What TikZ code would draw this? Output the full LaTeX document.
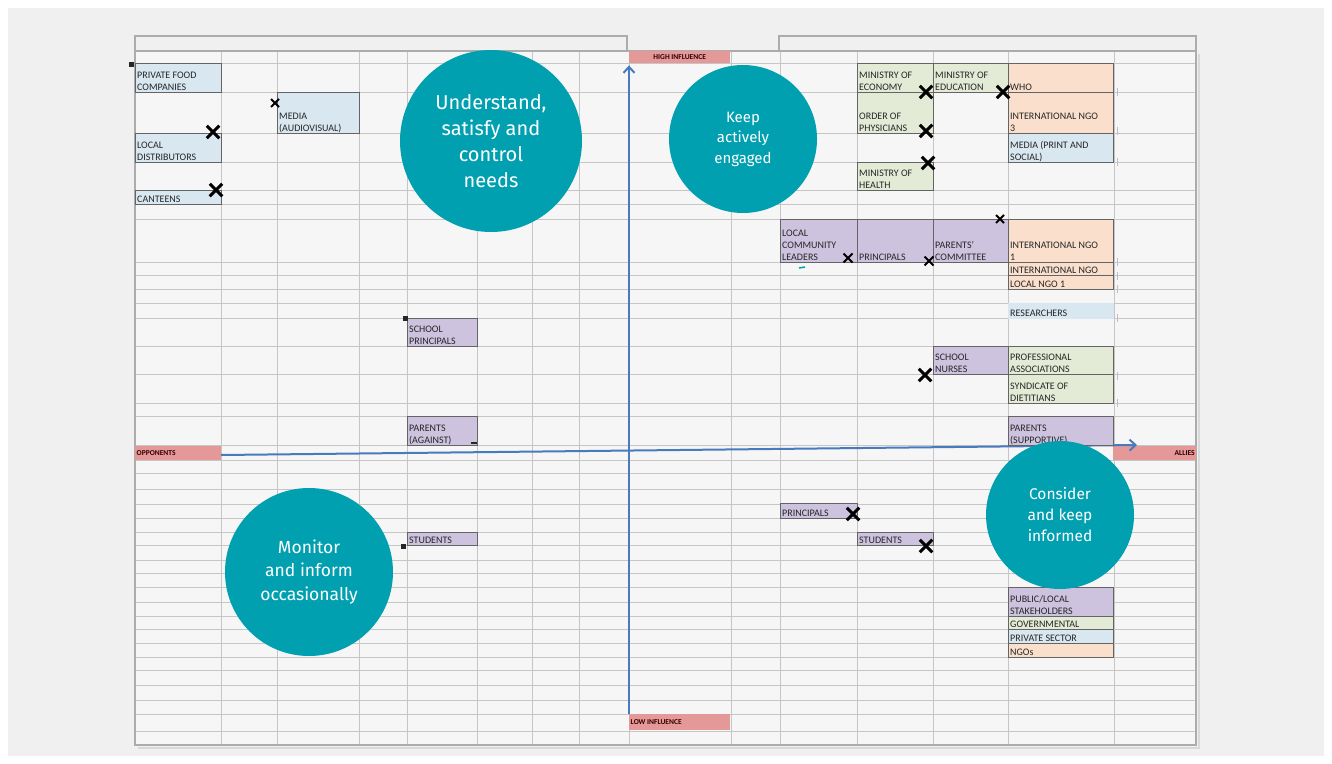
\documentclass[tikz,border=0pt]{standalone}
\usepackage{fontspec}
\setmainfont{Carlito}
\newfontfamily\circfont{Fira Sans}
\usetikzlibrary{arrows.meta,shapes.misc}

\definecolor{panelgray}{RGB}{240,240,240}
\definecolor{sheetbg}{RGB}{246,246,246}
\definecolor{boxedge}{RGB}{100,100,100}
\definecolor{privblue}{RGB}{216,231,240}
\definecolor{govgreen}{RGB}{227,235,214}
\definecolor{ngopeach}{RGB}{250,223,205}
\definecolor{publilac}{RGB}{205,195,223}
\definecolor{bandpink}{RGB}{228,152,152}
\definecolor{axisblue}{RGB}{72,122,190}
\definecolor{bubbleteal}{RGB}{0,160,176}

\begin{document}
\begin{tikzpicture}[x=1pt, y=-1pt,
  gridline/.style={gray!45, line width=0.9pt},
  stake/.style={draw=boxedge, line width=1.2pt, anchor=north west, inner sep=0pt},
  celltext/.style={anchor=south west, align=left, font=\fontsize{10}{12}\selectfont,
    text=black!85, inner xsep=2pt, inner ysep=3pt, text depth=0pt},
  bandcell/.style={fill=bandpink, anchor=north west, inner sep=0pt},
  bandtext/.style={font=\bfseries\fontsize{7.5}{8}\selectfont, text=black!80!red, inner sep=1.5pt},
  bubble/.style={circle, fill=bubbleteal, text=white, align=center, inner sep=0pt},
  xcross/.style={cross out, draw=black, line width=3pt, minimum size=9.5pt, inner sep=0pt},
  smallcross/.style={cross out, draw=black, line width=2pt, minimum size=6pt, inner sep=0pt},
  handle/.style={rectangle, fill=black!85, minimum size=5pt, inner sep=0pt},
  axis/.style={draw=axisblue, line width=2pt, -{Straight Barb[length=6pt, width=11pt, line width=2pt]}},
  tick/.style={gray!50, line width=0.8pt}
]
\useasboundingbox (0,0) rectangle (1332,763);
\fill[white] (0,0) rectangle (1332,763);
\fill[panelgray] (8,8) rectangle (1324,756);

% sheet and grid
\fill[sheetbg] (135,51) rectangle (1196,745);
\foreach \gx in {221,277,359,407,477,532,579,629,731,780,857,933,1008,1114}
  \draw[gridline] (\gx,51) -- (\gx,745);
\foreach \gy in {63,92,133,162,190,204,219,262,275,289,303,318,346,374,403,416,445,460,473,489,504,518,532,545,560,573,587,602,616,629,643,657,670,685,700,714,731}
  \draw[gridline] (135,\gy) -- (1196,\gy);
\draw[gray!65, line width=1.2pt] (135,51) -- (135,36) -- (627,36) -- (627,51);
\draw[gray!65, line width=1.2pt] (779,51) -- (779,36) -- (1196,36) -- (1196,51);
\draw[gray!30, line width=2pt] (138,747.5) -- (1198.5,747.5) -- (1198.5,54);
\draw[gray!65, line width=1.5pt] (135,51) rectangle (1196,745);

% influence / position bands
\node[bandcell, minimum width=101, minimum height=12] (high) at (629,51) {};
\node[bandtext] (high-t) at (high.center) {HIGH INFLUENCE};
\node[bandcell, minimum width=101, minimum height=16] (low) at (629,714) {};
\node[bandtext, anchor=west] (low-t) at (low.west) {LOW INFLUENCE};
\node[bandcell, minimum width=86, minimum height=14] (opp) at (135,446) {};
\node[bandtext, anchor=west] (opp-t) at (opp.west) {OPPONENTS};
\node[bandcell, minimum width=83, minimum height=14] (allies) at (1113,446) {};
\node[bandtext, anchor=east] (allies-t) at (allies.east) {ALLIES};

% axes
\coordinate (xleft) at (221,455);
\coordinate (xright) at (1137,445);
\draw[axis] (low.north west) -- ([yshift=-2pt]high.south west);
\draw[axis] (xleft) -- (xright);

% opponents side
\node[stake, fill=privblue, minimum width=86, minimum height=29] (pfc) at (135,63) {};
\node[celltext] (pfc-t) at (pfc.south west) {PRIVATE FOOD\\COMPANIES};
\node[stake, fill=privblue, minimum width=82, minimum height=41] (media) at (277,92) {};
\node[celltext] (media-t) at (media.south west) {MEDIA\\(AUDIOVISUAL)};
\node[stake, fill=privblue, minimum width=86, minimum height=29] (dist) at (135,133) {};
\node[celltext] (dist-t) at (dist.south west) {LOCAL\\DISTRIBUTORS};
\node[stake, fill=privblue, minimum width=86, minimum height=14] (cant) at (135,190) {};
\node[celltext] (cant-t) at (cant.south west) {CANTEENS};
\node[stake, fill=publilac, minimum width=70, minimum height=28] (schprin) at (407,318) {};
\node[celltext] (schprin-t) at (schprin.south west) {SCHOOL\\PRINCIPALS};
\node[stake, fill=publilac, minimum width=70, minimum height=29] (paragainst) at (407,416) {};
\node[celltext] (paragainst-t) at (paragainst.south west) {PARENTS\\(AGAINST)};
\node[stake, fill=publilac, minimum width=70, minimum height=13] (stud1) at (407,532) {};
\node[celltext] (stud1-t) at (stud1.south west) {STUDENTS};

% allies side, high influence
\node[stake, fill=govgreen, minimum width=76, minimum height=29] (mecon) at (857,63) {};
\node[celltext] (mecon-t) at (mecon.south west) {MINISTRY OF\\ECONOMY};
\node[stake, fill=govgreen, minimum width=75, minimum height=29] (medu) at (933,63) {};
\node[celltext] (medu-t) at (medu.south west) {MINISTRY OF\\EDUCATION};
\node[stake, fill=govgreen, minimum width=76, minimum height=41] (ophys) at (857,92) {};
\node[celltext] (ophys-t) at (ophys.south west) {ORDER OF\\PHYSICIANS};
\node[stake, fill=govgreen, minimum width=76, minimum height=28] (mhealth) at (857,162) {};
\node[celltext] (mhealth-t) at (mhealth.south west) {MINISTRY OF\\HEALTH};
\node[stake, fill=ngopeach, minimum width=105, minimum height=29] (who) at (1008,63) {};
\node[celltext] (who-t) at (who.south west) {WHO};
\node[stake, fill=ngopeach, minimum width=105, minimum height=41] (ingo3) at (1008,92) {};
\node[celltext] (ingo3-t) at (ingo3.south west) {INTERNATIONAL NGO\\3};
\node[stake, fill=privblue, minimum width=105, minimum height=29] (mediaps) at (1008,133) {};
\node[celltext] (mediaps-t) at (mediaps.south west) {MEDIA (PRINT AND\\SOCIAL)};
\node[stake, fill=publilac, minimum width=77, minimum height=43] (leaders) at (780,219) {};
\node[celltext] (leaders-t) at (leaders.south west) {LOCAL\\COMMUNITY\\LEADERS};
\node[stake, fill=publilac, minimum width=76, minimum height=43] (princ1) at (857,219) {};
\node[celltext] (princ1-t) at (princ1.south west) {PRINCIPALS};
\node[stake, fill=publilac, minimum width=75, minimum height=43] (parcom) at (933,219) {};
\node[celltext] (parcom-t) at (parcom.south west) {PARENTS'\\COMMITTEE};
\node[stake, fill=ngopeach, minimum width=105, minimum height=43] (ingo1) at (1008,219) {};
\node[celltext] (ingo1-t) at (ingo1.south west) {INTERNATIONAL NGO\\1};
\node[stake, fill=ngopeach, minimum width=105, minimum height=13] (ingo) at (1008,262) {};
\node[celltext] (ingo-t) at (ingo.south west) {INTERNATIONAL NGO};
\node[stake, fill=ngopeach, minimum width=105, minimum height=14] (lngo1) at (1008,275) {};
\node[celltext] (lngo1-t) at (lngo1.south west) {LOCAL NGO 1};
\node[stake, draw=privblue, fill=privblue, minimum width=105, minimum height=15] (research) at (1008,303) {};
\node[celltext] (research-t) at (research.south west) {RESEARCHERS};
\node[stake, fill=publilac, minimum width=75, minimum height=28] (nurses) at (933,346) {};
\node[celltext] (nurses-t) at (nurses.south west) {SCHOOL\\NURSES};
\node[stake, fill=govgreen, minimum width=105, minimum height=28] (profass) at (1008,346) {};
\node[celltext] (profass-t) at (profass.south west) {PROFESSIONAL\\ASSOCIATIONS};
\node[stake, fill=govgreen, minimum width=105, minimum height=29] (syndiet) at (1008,374) {};
\node[celltext] (syndiet-t) at (syndiet.south west) {SYNDICATE OF\\DIETITIANS};
\node[stake, fill=publilac, minimum width=105, minimum height=29] (parsup) at (1008,416) {};
\node[celltext] (parsup-t) at (parsup.south west) {PARENTS\\(SUPPORTIVE)};

% allies side, low influence
\node[stake, fill=publilac, minimum width=77, minimum height=15] (princ2) at (780,503) {};
\node[celltext] (princ2-t) at (princ2.south west) {PRINCIPALS};
\node[stake, fill=publilac, minimum width=76, minimum height=13] (stud2) at (857,532) {};
\node[celltext] (stud2-t) at (stud2.south west) {STUDENTS};

% legend
\node[stake, fill=publilac, minimum width=105, minimum height=29] (legpub) at (1008,587) {};
\node[celltext] (legpub-t) at (legpub.south west) {PUBLIC/LOCAL\\STAKEHOLDERS};
\node[stake, fill=govgreen, minimum width=105, minimum height=13] (leggov) at (1008,616) {};
\node[celltext] (leggov-t) at (leggov.south west) {GOVERNMENTAL};
\node[stake, fill=privblue, minimum width=105, minimum height=14] (legpriv) at (1008,629) {};
\node[celltext] (legpriv-t) at (legpriv.south west) {PRIVATE SECTOR};
\node[stake, fill=ngopeach, minimum width=105, minimum height=14] (legngo) at (1008,643) {};
\node[celltext] (legngo-t) at (legngo.south west) {NGOs};

% small marks next to the cells
\foreach \ty in {92,131,162,262,276,289,318,376,403}
  \draw[tick] (1117,\ty-4) -- (1117,\ty+4);
\draw[bubbleteal, line width=1.5pt] (799,268) -- (805,267);

% crosses
\node[handle] (h1) at (131,64) {};
\node[smallcross] (h2) at (275,103) {};
\node[xcross] (c1) at (213,132) {};
\node[xcross] (c2) at (216,190) {};
\node[handle] (h3) at (405,318) {};
\node[handle, minimum width=6pt, minimum height=2.5pt] (h4) at (474,443) {};
\node[handle] (h5) at (403,546) {};
\node[xcross] (c3) at (926,92) {};
\node[xcross] (c4) at (1003,92) {};
\node[xcross] (c5) at (926,131) {};
\node[xcross] (c6) at (928,163) {};
\node[smallcross] (h6) at (1000,219) {};
\node[smallcross, minimum size=7pt] (c7) at (848,258) {};
\node[smallcross, minimum size=7pt] (c8) at (929,261) {};
\node[xcross] (c9) at (925,375) {};
\node[xcross] (c10) at (853,514) {};
\node[xcross] (c11) at (926,546) {};

% quadrant bubbles
\node[bubble, minimum size=182, font=\circfont\fontsize{20}{26}\selectfont] (satisfy) at (491,141)
  {Understand,\\satisfy and\\control\\needs};
\node[bubble, minimum size=148, font=\circfont\fontsize{15}{20.5}\selectfont] (engaged) at (743,139)
  {Keep\\actively\\engaged};
\node[bubble, minimum size=148, font=\circfont\fontsize{15.5}{21}\selectfont] (informed) at (1060,515)
  {Consider\\and keep\\informed};
\node[bubble, minimum size=168, font=\circfont\fontsize{17.5}{23.5}\selectfont] (monitor) at (309,572)
  {Monitor\\and inform\\occasionally};
\end{tikzpicture}
\end{document}
